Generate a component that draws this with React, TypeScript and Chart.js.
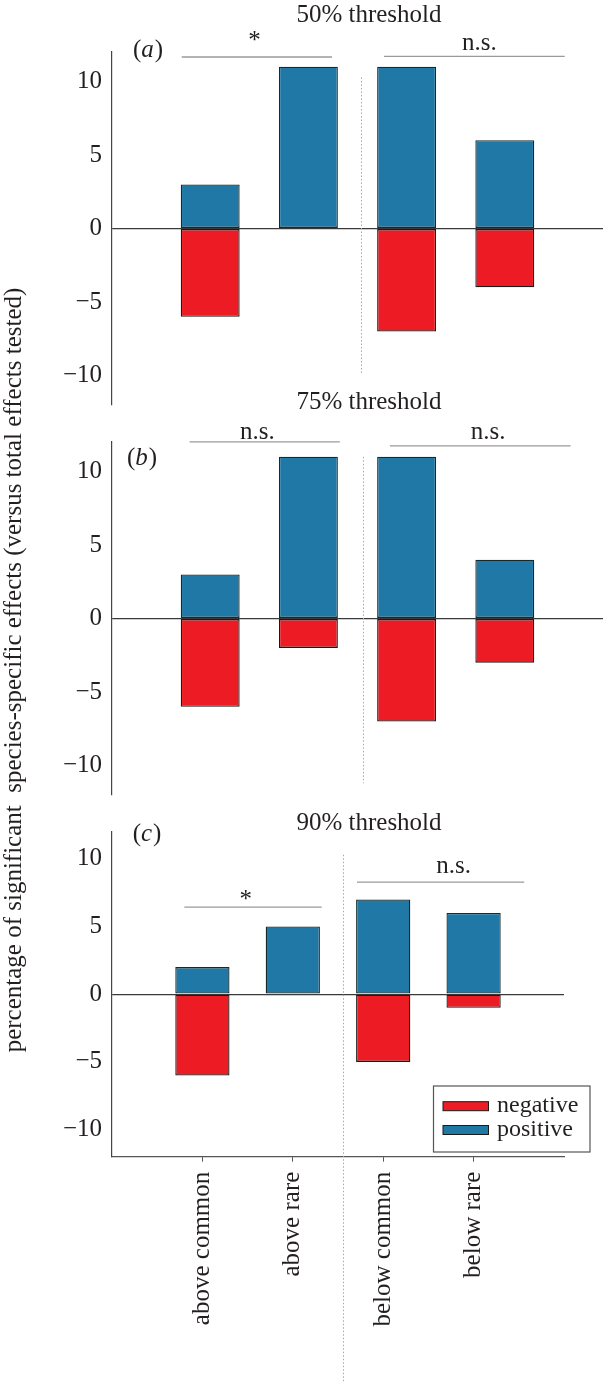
import React, { useEffect, useRef } from 'react';
import { Chart, registerables } from 'chart.js';

Chart.register(...registerables);

const FONT = '"Liberation Serif", "Times New Roman", serif';
const TEXT = '#231f20';
const FS = 25;

// ---------- data ----------
const categories = ['above common', 'above rare', 'below common', 'below rare'];
const seriesLabels = ['negative', 'positive'];
const seriesColors = ['#ed1c24', '#1f78a6'];
const panelTitles = ['50% threshold', '75% threshold', '90% threshold'];
const panelLetters = ['a', 'b', 'c'];
const yTicks = [-10, -5, 0, 5, 10];
const xTicks = [0, 1, 2, 3];
const yTitle = 'percentage of significant  species-specific effects (versus total effects tested)';

const negA = [-6, 0, -7, -4];
const posA = [3, 11, 11, 6];
const negB = [-6, -2, -7, -3];
const posB = [3, 11, 11, 4];
const negC = [-6, 0, -5, -1];
const posC = [2, 5, 7, 6];

// significance brackets (data units): line from x1 to x2 at y, label at (lx, ly)
type Bracket = { x1: number; x2: number; y: number; label: string; lx: number; ly: number };
const bracketsA: Bracket[] = [
  { x1: -0.29, x2: 1.24, y: 11.66, label: '*', lx: 0.45, ly: 12.3 },
  { x1: 1.77, x2: 3.61, y: 11.7, label: 'n.s.', lx: 2.74, ly: 12.16 },
];
const bracketsB: Bracket[] = [
  { x1: -0.21, x2: 1.32, y: 12.01, label: 'n.s.', lx: 0.48, ly: 12.18 },
  { x1: 1.83, x2: 3.67, y: 11.74, label: 'n.s.', lx: 2.83, ly: 12.18 },
];
const bracketsC: Bracket[] = [
  { x1: -0.2, x2: 1.32, y: 6.43, label: '*', lx: 0.48, ly: 6.45 },
  { x1: 1.71, x2: 3.56, y: 8.28, label: 'n.s.', lx: 2.78, ly: 8.94 },
];

// dotted separator between 'above' and 'below' groups: [x, yTop, yBottom]
const separatorA = [1.54, 10.27, -9.9];
const separatorB = [1.56, 10.99, -11.2];
const separatorC = [1.56, 10.3, -28.7];

// title / panel letter anchors (data units)
const titleAnchors = [
  [1.617, 14.04],
  [1.617, 14.22],
  [1.843, 12.14],
];
const letterAnchors = [
  [-0.786, 11.65],
  [-0.847, 10.46],
  [-0.771, 11.33],
];

// ---------- layout (pixels) ----------
const W = 603;
const H = 1383;
const AXIS_LEFT = 112;
const areas = [
  { top: 52, bottom: 405, right: 603 },
  { top: 442, bottom: 795, right: 603 },
  { top: 831.7, bottom: 1156.7, right: 564 },
];

type Panel = {
  neg: number[];
  pos: number[];
  brackets: Bracket[];
  sep: number[];
};
const panels: Panel[] = [
  { neg: negA, pos: posA, brackets: bracketsA, sep: separatorA },
  { neg: negB, pos: posB, brackets: bracketsB, sep: separatorB },
  { neg: negC, pos: posC, brackets: bracketsC, sep: separatorC },
];

const fmt = (v: number) => (v < 0 ? '\u2212' + Math.abs(v) : String(v));

function makeConfig(p: Panel, idx: number): any {
  const area = areas[idx];
  const showX = idx === 2;
  const xAxisH = H - area.bottom;
  const annot = {
    id: 'annot' + idx,
    afterDraw(chart: any) {
      const ctx: CanvasRenderingContext2D = chart.ctx;
      const xs = chart.scales.x;
      const ys = chart.scales.y;
      ctx.save();
      // dotted separator
      ctx.strokeStyle = '#a8a8a8';
      ctx.lineWidth = 1;
      ctx.setLineDash([1.5, 2]);
      const sx = Math.round(xs.getPixelForValue(p.sep[0])) + 0.5;
      ctx.beginPath();
      ctx.moveTo(sx, ys.getPixelForValue(p.sep[1]));
      ctx.lineTo(sx, ys.getPixelForValue(p.sep[2]));
      ctx.stroke();
      ctx.setLineDash([]);

      // brackets
      ctx.font = `${FS}px ${FONT}`;
      ctx.fillStyle = TEXT;
      ctx.textAlign = 'center';
      ctx.textBaseline = 'alphabetic';
      for (const b of p.brackets) {
        const y = ys.getPixelForValue(b.y);
        ctx.strokeStyle = '#9a9a9a';
        ctx.lineWidth = 1.3;
        ctx.beginPath();
        ctx.moveTo(xs.getPixelForValue(b.x1), y);
        ctx.lineTo(xs.getPixelForValue(b.x2), y);
        ctx.stroke();
        ctx.fillText(b.label, xs.getPixelForValue(b.lx), ys.getPixelForValue(b.ly));
      }

      // panel title
      const [tx, ty] = titleAnchors[idx];
      ctx.fillText(panelTitles[idx], xs.getPixelForValue(tx), ys.getPixelForValue(ty));

      // panel letter "(a)"
      const [lx, ly] = letterAnchors[idx];
      let px = xs.getPixelForValue(lx);
      const py = ys.getPixelForValue(ly);
      ctx.textAlign = 'left';
      ctx.font = `${FS}px ${FONT}`;
      ctx.fillText('(', px, py);
      px += ctx.measureText('(').width;
      ctx.font = `italic ${FS}px ${FONT}`;
      ctx.fillText(panelLetters[idx], px, py);
      px += ctx.measureText(panelLetters[idx]).width + 1;
      ctx.font = `${FS}px ${FONT}`;
      ctx.fillText(')', px, py);

      // legend (last panel)
      if (idx === 2) {
        ctx.strokeStyle = '#555';
        ctx.lineWidth = 1.2;
        ctx.strokeRect(433.5, 1086, 156.5, 66);
        const rows = [1106.2, 1130];
        chart.data.datasets.forEach((ds: any, k: number) => {
          const cy = rows[k];
          ctx.fillStyle = ds.backgroundColor;
          ctx.fillRect(443, cy - 4.5, 45.5, 9);
          ctx.strokeStyle = '#1a1a1a';
          ctx.lineWidth = 1;
          ctx.strokeRect(443, cy - 4.5, 45.5, 9);
          ctx.fillStyle = TEXT;
          ctx.textAlign = 'left';
          ctx.font = `24px ${FONT}`;
          ctx.fillText(ds.label, 497, cy + 5.5);
        });
      }

      // shared y-axis title (first panel draws it)
      if (idx === 0) {
        ctx.translate(20.5, 670);
        ctx.rotate(-Math.PI / 2);
        ctx.textAlign = 'center';
        ctx.textBaseline = 'alphabetic';
        ctx.font = `${FS}px ${FONT}`;
        ctx.fillStyle = TEXT;
        ctx.fillText(yTitle, 0, 0);
      }
      ctx.restore();
    },
  };

  return {
    type: 'bar',
    data: {
      datasets: [
        {
          label: seriesLabels[0],
          data: p.neg.map((v, i) => ({ x: xTicks[i], y: v })),
          backgroundColor: seriesColors[0],
          borderColor: '#1a1a1a',
          borderWidth: 1.3,
          borderSkipped: false,
          barPercentage: 0.6,
          categoryPercentage: 1,
        },
        {
          label: seriesLabels[1],
          data: p.pos.map((v, i) => ({ x: xTicks[i], y: v })),
          backgroundColor: seriesColors[1],
          borderColor: '#152a2a',
          borderWidth: 1.3,
          borderSkipped: false,
          barPercentage: 0.6,
          categoryPercentage: 1,
        },
      ],
    },
    options: {
      responsive: false,
      animation: false,
      devicePixelRatio: 1,
      events: [],
      layout: {
        padding: {
          left: 0,
          top: area.top,
          right: W - area.right,
          bottom: showX ? 0 : H - area.bottom,
        },
      },
      plugins: {
        legend: { display: false },
        title: { display: false },
        tooltip: { enabled: false },
      },
      scales: {
        x: {
          type: 'linear',
          min: -1,
          max: 4,
          offset: false,
          stacked: true,
          display: showX,
          afterBuildTicks: (s: any) => {
            s.ticks = xTicks.map((v) => ({ value: v }));
          },
          afterFit: (s: any) => {
            if (showX) s.height = xAxisH;
          },
          grid: {
            display: true,
            offset: false,
            drawOnChartArea: false,
            drawTicks: true,
            tickLength: 5,
            color: '#555',
          },
          border: { display: true, color: '#555', width: 1.2 },
          ticks: {
            autoSkip: false,
            minRotation: 90,
            maxRotation: 90,
            padding: 10,
            color: TEXT,
            font: { family: FONT, size: FS },
            callback: (v: any) => categories[Number(v)] ?? '',
          },
        },
        y: {
          type: 'linear',
          min: -12,
          max: 12,
          stacked: true,
          afterBuildTicks: (s: any) => {
            s.ticks = yTicks.map((v) => ({ value: v }));
          },
          afterFit: (s: any) => {
            s.width = AXIS_LEFT;
          },
          grid: {
            display: true,
            drawTicks: false,
            color: (c: any) => (c.tick && c.tick.value === 0 ? '#3a3a3a' : 'rgba(0,0,0,0)'),
            lineWidth: 1.2,
          },
          border: { display: true, color: '#444', width: 1.2 },
          ticks: {
            padding: 10,
            color: TEXT,
            font: { family: FONT, size: FS },
            callback: (v: any) => fmt(Number(v)),
          },
        },
      },
    },
    plugins: [annot],
  };
}

export default function App() {
  const r0 = useRef<HTMLCanvasElement>(null);
  const r1 = useRef<HTMLCanvasElement>(null);
  const r2 = useRef<HTMLCanvasElement>(null);
  const refs = [r0, r1, r2];

  useEffect(() => {
    const charts = panels.map((p, i) => new Chart(refs[i].current as HTMLCanvasElement, makeConfig(p, i)));
    return () => charts.forEach((c) => c.destroy());
  }, []);

  return (
    <div style={{ position: 'absolute', left: 0, top: 0, width: W, height: H, background: '#fff' }}>
      {refs.map((r, i) => (
        <canvas
          key={i}
          ref={r}
          width={W}
          height={H}
          style={{ position: 'absolute', left: 0, top: 0, width: W, height: H }}
        />
      ))}
    </div>
  );
}
